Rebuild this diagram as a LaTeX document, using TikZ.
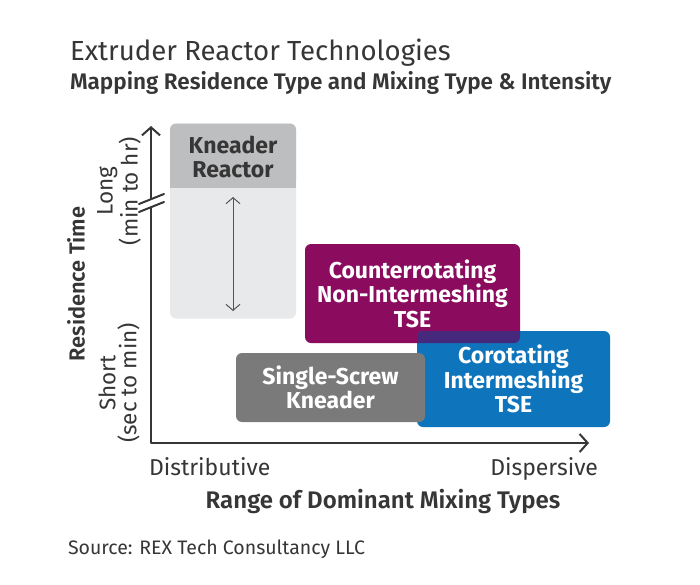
\documentclass[tikz,border=0pt]{standalone}
\usepackage{fontspec}
\setmainfont{Fira Sans}
\newfontfamily\firasemi{Fira Sans SemiBold}
\usetikzlibrary{arrows.meta,calc}
\definecolor{ink}{HTML}{363636}
\definecolor{plum}{HTML}{8B0B5E}
\definecolor{cobalt}{HTML}{0E75BC}
\definecolor{dusk}{HTML}{46297C}
\definecolor{stone}{HTML}{7A7A7A}
\definecolor{mist}{HTML}{BDBEC0}
\definecolor{haze}{HTML}{E8E9EA}
\tikzset{
    every picture/.style={line cap=round,line join=round},
    techbox/.style={rounded corners=6pt,inner sep=0pt,outer sep=0pt,
      text=white,align=center,font=\fontsize{23}{24.5}\selectfont\bfseries},
    plaintext/.style={inner sep=0pt,outer sep=0pt,text=ink},
    axisline/.style={draw=ink,line width=2pt,
      {Straight Barb[length=8pt,width=18pt]}-{Straight Barb[length=8pt,width=18pt]}},
    spanarrow/.style={draw=ink!85,line width=1pt,
      {Straight Barb[length=6pt,width=14pt]}-{Straight Barb[length=6pt,width=14pt]}}
}
\begin{document}
\begin{tikzpicture}[x=1pt,y=-1pt]
  \useasboundingbox[fill=white] (0,0) rectangle (700,584);
  % headings
  \node[plaintext,anchor=base west,font=\fontsize{27.6}{32}\selectfont] (title) at (70,60) {Extruder Reactor Technologies};
  \node[plaintext,anchor=base west,font=\fontsize{22.5}{26}\selectfont\firasemi] (subtitle) at (70,89) {Mapping Residence Type and Mixing Type \& Intensity};
  % kneader reactor
  \node[techbox,fill=haze,minimum width=126pt,minimum height=195pt] (kneader) at (233,221) {};
  \fill[mist,rounded corners=6pt] (kneader.north west) rectangle ($(kneader.north east)+(0,64)$);
  \fill[mist] ($(kneader.north west)+(0,40)$) rectangle ($(kneader.north east)+(0,64)$);
  \node[techbox,text=ink] (kntitle) at (233,157) {Kneader\\Reactor};
  \coordinate (ktop) at (233,197);
  \coordinate (kbot) at (233,311);
  \draw[spanarrow] (ktop) -- (kbot);
  % twin screw and single screw boxes
  \node[techbox,fill=plum,minimum width=215pt,minimum height=99pt] (counter) at (412.5,293.5) {Counterrotating\\Non-Intermeshing\\TSE};
  \node[techbox,fill=cobalt,minimum width=193pt,minimum height=96pt] (corot) at (513.5,379) {Corotating\\Intermeshing\\TSE};
  \begin{scope}
    \clip[rounded corners=6pt] (counter.north west) rectangle (counter.south east);
    \fill[dusk,rounded corners=6pt] (corot.north west) rectangle (corot.south east);
  \end{scope}
  \node[techbox,fill=stone,minimum width=189pt,minimum height=69pt] (single) at (330.5,387.5) {Single-Screw\\Kneader};
  % axes
  \coordinate (origin) at (151,443);
  \coordinate (ytip) at (151,126);
  \coordinate (xtip) at (589,443);
  \draw[axisline] (ytip) -- (origin) -- (xtip);
  \coordinate (brk1) at (139,204);
  \coordinate (brk2) at (164,194);
  \coordinate (brk3) at (164,202);
  \coordinate (brk4) at (139,212);
  \fill[white] (brk1) -- (brk2) -- (brk3) -- (brk4) -- cycle;
  \draw[ink,line width=2pt] (brk1) -- (brk2) (brk4) -- (brk3);
  % axis labels
  \node[plaintext,rotate=90,font=\fontsize{21.8}{25}\selectfont\firasemi] (restime) at (76,284) {Residence Time};
  \node[plaintext,rotate=90,align=center,font=\fontsize{22.5}{21}\selectfont] (long) at (119,191) {Long\\(min to hr)};
  \node[plaintext,rotate=90,align=center,font=\fontsize{22.5}{21}\selectfont] (short) at (119,383) {Short\\(sec to min)};
  \node[plaintext,anchor=base west,font=\fontsize{23}{27}\selectfont] (distrib) at (149,475) {Distributive};
  \node[plaintext,anchor=base east,font=\fontsize{23}{27}\selectfont] (dispers) at (598,475) {Dispersive};
  \node[plaintext,anchor=base,font=\fontsize{24}{27}\selectfont\firasemi] (mixtypes) at (383,508) {Range of Dominant Mixing Types};
  \node[plaintext,anchor=base west,font=\fontsize{19.5}{23}\selectfont] (source) at (68,554) {Source: REX Tech Consultancy LLC};
\end{tikzpicture}
\end{document}
